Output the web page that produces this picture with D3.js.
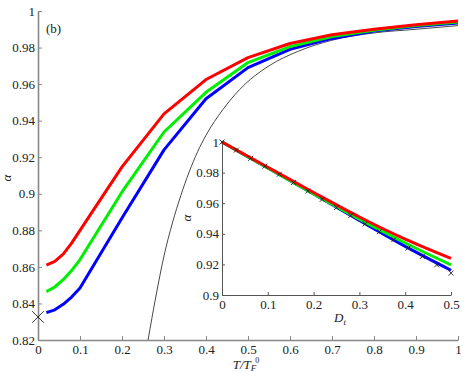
<!DOCTYPE html>
<html>
<head>
<meta charset="utf-8">
<script src="https://cdn.jsdelivr.net/npm/d3@7"></script>
<style>
  body { margin: 0; background: #fff; }
  svg text { font-family: "Liberation Serif", "Times New Roman", serif; fill: #222; }
  .axis path, .axis line { stroke: #888; }
  .main-axis path { stroke-width: 1.6; }
  .inset-axis path, .inset-axis line { stroke: #555; }
</style>
</head>
<body>
<div id="chart"></div>
<script>
// main panel: alpha vs T/T_F^0
let mainT      = [0.02, 0.04, 0.06, 0.08, 0.1, 0.2, 0.3, 0.4, 0.5, 0.6, 0.7, 0.8, 0.9, 1.0];
let redMain    = [0.861, 0.863, 0.867, 0.873, 0.880, 0.9147, 0.9437, 0.9625, 0.9745, 0.9822, 0.987, 0.990, 0.9925, 0.9945];
let greenMain  = [0.8465, 0.849, 0.853, 0.858, 0.864, 0.901, 0.9338, 0.9555, 0.9718, 0.9805, 0.986, 0.9895, 0.992, 0.994];
let blueMain   = [0.835, 0.8365, 0.8395, 0.8435, 0.8485, 0.8867, 0.924, 0.952, 0.969, 0.979, 0.985, 0.989, 0.9915, 0.9935];
let blackT     = [0.262, 0.28, 0.30, 0.32, 0.34, 0.36, 0.38, 0.40, 0.44, 0.48, 0.55, 0.62, 0.70, 0.80, 0.90, 1.0];
let blackAlpha = [0.82, 0.843, 0.866, 0.884, 0.899, 0.912, 0.923, 0.932, 0.946, 0.957, 0.970, 0.978, 0.984, 0.988, 0.990, 0.992];
let crossT = 0, crossAlpha = 0.8326;
let mainXTicks = [0, 0.1, 0.2, 0.3, 0.4, 0.5, 0.6, 0.7, 0.8, 0.9, 1];
let mainYTicks = [0.82, 0.84, 0.86, 0.88, 0.9, 0.92, 0.94, 0.96, 0.98, 1];

// inset: alpha vs D_t
let insetD     = [0, 0.1, 0.2, 0.3, 0.4, 0.5];
let redInset   = [1, 0.9835, 0.967, 0.951, 0.9365, 0.9239];
let greenInset = [1, 0.983, 0.966, 0.9495, 0.934, 0.9197];
let blueInset  = [1, 0.983, 0.966, 0.9488, 0.9318, 0.9162];
let markerD     = [0, 0.03125, 0.0625, 0.09375, 0.125, 0.15625, 0.1875, 0.21875, 0.25, 0.28125, 0.3125, 0.34375, 0.375, 0.40625, 0.4375, 0.46875, 0.5];
let markerAlpha = [1, 0.9947, 0.9893, 0.9842, 0.9789, 0.9735, 0.968, 0.9625, 0.9572, 0.952, 0.9465, 0.9414, 0.9362, 0.9307, 0.9252, 0.9197, 0.9143];
let insetXTicks = [0, 0.1, 0.2, 0.3, 0.4, 0.5];
let insetYTicks = [0.9, 0.92, 0.94, 0.96, 0.98, 1];

let colors = {red: "#ff0000", green: "#00ee00", blue: "#0000ff"};
let serif = "'Liberation Serif', 'Times New Roman', serif";

let svg = d3.select("#chart").append("svg")
    .attr("width", 471)
    .attr("height", 372)
    .attr("font-family", serif);

let fmt = function(d) { return String(+d.toFixed(2)); };
let styleTicks = function(g) {
    g.attr("font-family", serif);
    g.selectAll("text").style("font-size", "13px").attr("fill", "#222");
};

// ---- main panel ----
let x = d3.scaleLinear().domain([0, 1]).range([38, 458]);
let y = d3.scaleLinear().domain([0.82, 1]).range([340, 11]);

svg.append("g")
    .attr("class", "axis main-axis")
    .attr("transform", "translate(0,340)")
    .call(d3.axisBottom(x).tickValues(mainXTicks).tickFormat(fmt)
        .tickSizeInner(-4).tickSizeOuter(0).tickPadding(5))
    .call(styleTicks);

svg.append("g")
    .attr("class", "axis main-axis")
    .attr("transform", "translate(38,0)")
    .call(d3.axisLeft(y).tickValues(mainYTicks).tickFormat(fmt)
        .tickSizeInner(-4).tickSizeOuter(0).tickPadding(3))
    .call(styleTicks);

let mainLine = d3.line()
    .x(function(d) { return x(d[0]); })
    .y(function(d) { return y(d[1]); });

svg.append("path")
    .attr("d", mainLine.curve(d3.curveMonotoneX)(d3.zip(blackT, blackAlpha)))
    .attr("fill", "none")
    .attr("stroke", "#333")
    .attr("stroke-width", 0.9);

mainLine.curve(d3.curveLinear);
[["blue", blueMain], ["green", greenMain], ["red", redMain]].forEach(function(s) {
    svg.append("path")
        .attr("d", mainLine(d3.zip(mainT, s[1])))
        .attr("fill", "none")
        .attr("stroke", colors[s[0]])
        .attr("stroke-width", 3)
        .attr("stroke-linejoin", "round");
});

// big cross at T = 0
svg.append("path")
    .attr("d", d3.symbol(d3.symbolTimes, 90)())
    .attr("transform", "translate(" + x(crossT) + "," + y(crossAlpha) + ")")
    .attr("fill", "none")
    .attr("stroke", "#222")
    .attr("stroke-width", 0.9);

svg.append("text")
    .attr("x", 46).attr("y", 33)
    .style("font-size", "13px")
    .text("(b)");

svg.append("text")
    .attr("transform", "translate(11,178) rotate(-90)")
    .attr("text-anchor", "middle")
    .style("font-size", "13px")
    .style("font-style", "italic")
    .text("α");

let xl = svg.append("text")
    .attr("x", 246).attr("y", 369)
    .attr("text-anchor", "middle")
    .style("font-size", "13px")
    .style("font-style", "italic");
xl.append("tspan").text("T/T");
xl.append("tspan").attr("dy", 2).style("font-size", "9px").text("F");
xl.append("tspan").attr("dy", -8).attr("dx", -1).style("font-size", "8px").style("font-style", "normal").text("0");

// ---- inset ----
let ix = d3.scaleLinear().domain([0, 0.5]).range([222, 451]);
let iy = d3.scaleLinear().domain([0.9, 1]).range([295, 142]);

svg.append("g")
    .attr("class", "axis inset-axis")
    .attr("transform", "translate(0,295)")
    .call(d3.axisBottom(ix).tickValues(insetXTicks).tickFormat(fmt)
        .tickSizeInner(-3).tickSizeOuter(0).tickPadding(5))
    .call(styleTicks);

svg.append("g")
    .attr("class", "axis inset-axis")
    .attr("transform", "translate(222,0)")
    .call(d3.axisLeft(iy).tickValues(insetYTicks).tickFormat(fmt)
        .tickSizeInner(-3).tickSizeOuter(0).tickPadding(3))
    .call(styleTicks);

let insetLine = d3.line()
    .curve(d3.curveMonotoneX)
    .x(function(d) { return ix(d[0]); })
    .y(function(d) { return iy(d[1]); });

[["blue", blueInset], ["green", greenInset], ["red", redInset]].forEach(function(s) {
    svg.append("path")
        .attr("d", insetLine(d3.zip(insetD, s[1])))
        .attr("fill", "none")
        .attr("stroke", colors[s[0]])
        .attr("stroke-width", 3);
});

svg.append("g").selectAll("path")
    .data(d3.zip(markerD, markerAlpha))
    .enter().append("path")
    .attr("d", d3.symbol(d3.symbolTimes, 18)())
    .attr("transform", function(d) { return "translate(" + ix(d[0]) + "," + iy(d[1]) + ")"; })
    .attr("fill", "none")
    .attr("stroke", "#222")
    .attr("stroke-width", 0.9);

svg.append("text")
    .attr("transform", "translate(191,218) rotate(-90)")
    .attr("text-anchor", "middle")
    .style("font-size", "13px")
    .style("font-style", "italic")
    .text("α");

let dl = svg.append("text")
    .attr("x", 340).attr("y", 322)
    .attr("text-anchor", "middle")
    .style("font-size", "13px")
    .style("font-style", "italic");
dl.append("tspan").text("D");
dl.append("tspan").attr("dy", 3).style("font-size", "9px").text("t");
</script>
</body>
</html>
